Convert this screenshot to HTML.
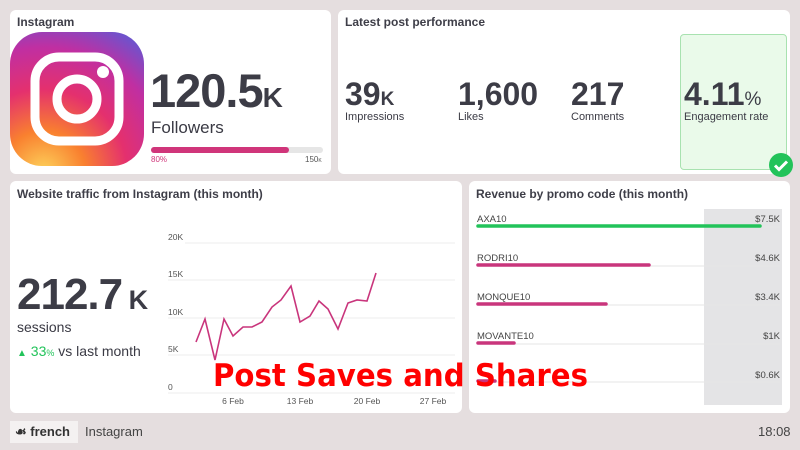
<!DOCTYPE html>
<html><head><style>
*{margin:0;padding:0;box-sizing:border-box}
body{width:800px;height:450px;background:#e5dedf;font-family:"Liberation Sans",sans-serif;color:#3a3a44;position:relative;overflow:hidden}
.card{position:absolute;background:#fff;border-radius:6px}
.t{position:absolute;font-weight:bold;font-size:12px;color:#3e3e48}
.a{position:absolute}
.n{font-weight:bold;color:#3c3c46}
</style></head><body>
<div class="card" style="left:10px;top:10px;width:321px;height:164px"></div>
<div class="card" style="left:338px;top:10px;width:452px;height:164px"></div>
<div class="card" style="left:10px;top:181px;width:452px;height:232px"></div>
<div class="card" style="left:469px;top:181px;width:321px;height:232px"></div>
<div class="t" style="left:17px;top:15px">Instagram</div>
<div class="t" style="left:345px;top:15px">Latest post performance</div>
<div class="t" style="left:17px;top:187px">Website traffic from Instagram (this month)</div>
<div class="t" style="left:476px;top:187px">Revenue by promo code (this month)</div>
<svg class="a" style="left:10px;top:32px" width="134" height="134" viewBox="0 0 134 134">
<defs><radialGradient id="g" cx="0.25" cy="1.05" r="1.25"><stop offset="0" stop-color="#fdd45c"/><stop offset="0.25" stop-color="#f9802f"/><stop offset="0.5" stop-color="#e4306e"/><stop offset="0.75" stop-color="#c02fa2"/><stop offset="1" stop-color="#5b5bd6"/></radialGradient></defs>
<rect x="0" y="0" width="134" height="134" rx="32" fill="url(#g)"/>
<rect x="25" y="25" width="84" height="84" rx="24" fill="none" stroke="#fff" stroke-width="9"/>
<circle cx="67" cy="67" r="20" fill="none" stroke="#fff" stroke-width="9"/>
<circle cx="93" cy="40" r="6" fill="#fff"/></svg>
<div class="a n" style="left:150px;top:63px;font-size:47px;letter-spacing:-1px">120.5<span style="font-size:28px">K</span></div>
<div class="a" style="left:151px;top:118px;font-size:17px">Followers</div>
<div class="a" style="left:151px;top:147px;width:172px;height:6px;background:#e6e6e6;border-radius:3px"><div style="width:138px;height:6px;background:#d0357a;border-radius:3px"></div></div>
<div class="a" style="left:151px;top:155px;font-size:8px;color:#d0357a">80%</div>
<div class="a" style="left:305px;top:155px;font-size:8px;color:#555">150<span style="font-size:5px">K</span></div>
<div class="a" style="left:680px;top:34px;width:107px;height:136px;background:#eafaea;border:1px solid #a8e2b0;border-radius:4px"></div>
<div class="a n" style="left:345px;top:76px;font-size:32px">39<span style="font-size:19px">K</span></div>
<div class="a n" style="left:458px;top:76px;font-size:32px">1,600</div>
<div class="a n" style="left:571px;top:76px;font-size:32px">217</div>
<div class="a n" style="left:684px;top:76px;font-size:32px">4.11<span style="font-size:19px;font-weight:normal">%</span></div>
<div class="a" style="left:345px;top:111px;font-size:11px">Impressions</div>
<div class="a" style="left:458px;top:111px;font-size:11px">Likes</div>
<div class="a" style="left:571px;top:111px;font-size:11px">Comments</div>
<div class="a" style="left:684px;top:111px;font-size:11px">Engagement rate</div>
<svg class="a" style="left:768px;top:152px" width="26" height="26"><circle cx="13" cy="13" r="12" fill="#22c35a"/><path d="M7 13.5l4 4 8-8" stroke="#fff" stroke-width="3" fill="none"/></svg>
<div class="a n" style="left:17px;top:270px;font-size:44px;letter-spacing:-1px">212.7<span style="font-size:27px"> K</span></div>
<div class="a" style="left:17px;top:319px;font-size:14px">sessions</div>
<div class="a" style="left:17px;top:343px;font-size:14px"><span style="color:#22c35a;font-size:10px">▲</span> <span style="color:#22c35a">33<span style="font-size:9px">%</span></span> vs last month</div>
<svg class="a" style="left:0;top:0" width="800" height="450">
<g stroke="#eee" stroke-width="1"><line x1="185" y1="243" x2="455" y2="243"/><line x1="168" y1="280" x2="455" y2="280"/><line x1="168" y1="318" x2="455" y2="318"/><line x1="168" y1="355" x2="455" y2="355"/><line x1="168" y1="393" x2="455" y2="393"/></g>
<g font-size="8.5" fill="#555" font-family="Liberation Sans"><text x="168" y="240">20K</text><text x="168" y="277">15K</text><text x="168" y="315">10K</text><text x="168" y="352">5K</text><text x="168" y="390">0</text>
<g text-anchor="middle"><text x="233" y="404">6 Feb</text><text x="300" y="404">13 Feb</text><text x="367" y="404">20 Feb</text><text x="433" y="404">27 Feb</text></g></g>
<polyline fill="none" stroke="#c9357c" stroke-width="1.6" points="196,342 205,319 215,360 224,319 233,336 243,327 252,327 262,322 272,307 281,300 291,286 300,322 310,316 319,301 328,309 338,329 348,303 357,300 367,301 376,273"/>
<rect x="704" y="209" width="78" height="196" fill="#e4e4e6"/>
<g stroke="#e6e6e6"><line x1="477" y1="227" x2="780" y2="227"/><line x1="477" y1="266" x2="780" y2="266"/><line x1="477" y1="305" x2="780" y2="305"/><line x1="477" y1="344" x2="780" y2="344"/><line x1="477" y1="382" x2="780" y2="382"/></g>
<g stroke-width="3.5" stroke-linecap="round"><line x1="478" y1="226" x2="760" y2="226" stroke="#22c35a"/><line x1="478" y1="265" x2="649" y2="265" stroke="#c9357c"/><line x1="478" y1="304" x2="606" y2="304" stroke="#c9357c"/><line x1="478" y1="343" x2="514" y2="343" stroke="#c9357c"/><line x1="478" y1="381" x2="495" y2="381" stroke="#c9357c"/></g>
<g font-size="9.5" fill="#444" font-family="Liberation Sans"><text x="477" y="222">AXA10</text><text x="477" y="261">RODRI10</text><text x="477" y="300">MONQUE10</text><text x="477" y="339">MOVANTE10</text>
<g text-anchor="end"><text x="780" y="222">$7.5K</text><text x="780" y="261">$4.6K</text><text x="780" y="300">$3.4K</text><text x="780" y="339">$1K</text><text x="780" y="378">$0.6K</text></g></g>
<text x="213" y="386" font-family="DejaVu Sans" font-weight="bold" font-size="31" fill="#f00" textLength="375" lengthAdjust="spacingAndGlyphs">Post Saves and Shares</text>
</svg>
<div class="a" style="left:10px;top:421px;width:68px;height:22px;background:#f4f1f1"></div>
<div class="a" style="left:15px;top:424px;font-size:13px;font-weight:bold;color:#333">☙ french</div>
<div class="a" style="left:85px;top:424px;font-size:13px;color:#444">Instagram</div>
<div class="a" style="left:758px;top:424px;font-size:13px;color:#444">18:08</div>
</body></html>
